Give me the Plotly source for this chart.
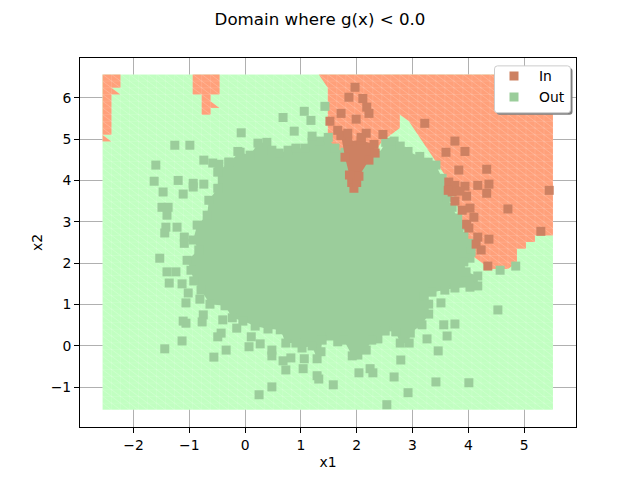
import numpy as np
import plotly.graph_objects as go

TITLE = "Domain where g(x) < 0.0"
GREEN_MESH, RED_MESH = "#C1FFC1", "#FFA07A"
OUT_COL, IN_COL = "#9BCD9B", "#CD8162"

# mesh of the evaluated domain
x_nodes = np.linspace(-2.555, 5.518, 51)
y_nodes = np.linspace(6.562, -1.544, 51)

# "In" domain outlines, as (column, row from top) nodes of that mesh
in_region_a = [(0,0),(2,0),(2,2),(1,2),(2,3),(1,3),(1,9),(0,9),(1,10),(0,10)]
in_region_b = [(10,0),(13,0),(13,3),(12,3),(12,4),(13,5),(12,5),(12,6),(11,6),(11,3),(10,3)]
in_region_c = [(24,0),(25,2),(25,10),(26,12),(28,18),(30,12),(31,10),(33,8),(33,6),(34,7),(35,9),
               (36,11),(37,13),(38,15),(39,18),(40,22),(41,27),(43,29),(45,29),(46,28),(46,26),
               (47,26),(47,25),(48,25),(48,24),(50,24),(50,0)]

out_x = [-1.26,-0.99,-0.74,-0.58,-0.47,-1.60,-1.63,-1.20,-0.93,-0.93,-0.74,-1.47,-1.11,-1.49,-1.38,-1.40,
         -1.42,-1.44,-1.22,-1.09,-1.09,-1.53,-0.13,-0.07,0.68,1.06,1.18,0.88,1.20,1.43,-1.40,-1.24,-1.36,
         -1.13,-1.02,-1.06,-0.81,-1.11,-1.06,-0.75,-0.77,-1.13,-1.44,-0.43,-0.49,-0.34,-0.56,-0.15,-0.40,
         0.07,0.11,0.27,0.48,0.48,0.68,0.82,0.73,1.06,1.04,0.48,0.25,1.29,1.32,1.58,2.04,2.24,2.29,2.67,
         2.92,2.54,2.79,3.42,4.01,3.46,3.26,3.56,3.76,3.62,3.51,4.53,4.57,4.85]
out_y = [4.85,4.85,4.49,4.42,4.39,4.37,3.98,4.00,3.93,3.84,3.91,3.72,3.67,3.35,3.35,3.16,
         2.87,2.73,2.87,2.63,2.48,2.12,4.70,5.15,5.52,5.67,5.45,5.19,5.07,5.79,1.79,1.79,1.52,
         1.50,1.28,1.04,1.13,0.60,0.55,0.75,0.58,0.12,-0.07,0.31,0.22,-0.10,-0.27,0.43,0.63,
         -0.02,0.22,0.05,-0.10,-0.24,-0.36,-0.29,-0.58,-0.31,-0.55,-0.99,-1.18,-0.72,-0.80,-0.94,-0.65,-0.55,-0.65,-0.75,
         -1.13,-1.42,-0.34,-0.87,-0.89,-0.12,0.17,0.51,0.53,0.24,1.04,0.87,1.83,1.93]

# edge points of the dense "Out" cloud, clockwise
out_edge_x = [-0.29,-0.09,0.09,0.23,0.39,0.48,0.61,0.77,0.91,1.07,1.20,1.34,1.49,1.61,1.79,2.06,2.38,2.52,2.67,
              2.78,2.92,3.13,3.28,3.42,3.53,3.60,3.62,3.71,3.81,3.90,3.92,4.03,4.05,4.03,3.92,3.96,4.17,4.17,
              4.03,3.76,3.58,3.35,3.21,3.29,3.29,3.17,2.96,2.94,2.78,2.70,2.51,2.38,2.27,2.17,2.02,1.92,1.77,
              1.66,1.52,1.38,1.36,1.29,1.20,1.02,0.91,0.73,0.63,0.41,0.18,-0.04,-0.23,-0.36,-0.63,-0.79,-0.92,
              -0.97,-1.04,-0.83,-0.93,-0.86,-0.68,-0.65,-0.49,-0.49]
out_edge_y = [4.44,4.68,4.61,4.90,4.92,4.73,4.66,4.73,4.78,4.78,4.92,4.95,5.04,4.78,4.68,4.73,4.61,4.92,4.95,
              4.83,4.70,4.58,4.44,4.37,4.05,3.84,3.59,3.35,3.09,2.90,2.65,2.48,2.27,2.12,2.03,1.79,1.69,1.45,
              1.42,1.40,1.35,1.30,1.21,1.01,0.77,0.51,0.31,0.07,0.07,0.34,0.36,0.17,0.14,-0.10,-0.22,-0.24,0.14,
              0.10,0.24,0.14,-0.14,-0.31,0.00,-0.05,0.07,0.07,0.39,0.41,0.48,0.60,0.68,0.97,1.01,1.35,1.57,
              1.83,2.07,2.32,2.56,2.92,3.16,3.52,3.81,4.20]

in_x = [1.97,1.86,2.11,2.18,2.22,1.72,1.99,1.52,1.66,1.84,2.17,2.08,2.47,3.22,3.76,3.60,3.94,3.83,4.33,4.37,
        4.17,4.33,5.45,4.71,4.37,5.30,4.35,3.65,3.76,3.94,3.71,3.97,3.76,3.89,4.03,4.10,3.97,4.01,4.17,4.14,
        4.23,3.85,3.64]
in_y = [6.25,6.01,5.98,5.77,5.62,5.62,5.48,5.43,5.21,5.14,5.14,5.04,5.11,5.38,4.95,4.68,4.70,4.25,4.27,3.91,
        3.88,3.69,3.76,3.31,2.58,2.77,1.93,3.96,3.88,3.86,3.72,3.62,3.50,3.28,3.33,3.11,2.94,2.85,2.63,2.46,
        2.32,3.74,3.76]

# edge points of the dense "In" wedge
in_edge_x = [1.72,1.79,1.87,1.91,1.95,2.00,2.04,2.22,2.33,2.31,2.08,1.84]
in_edge_y = [5.09,4.56,4.13,3.95,3.81,3.95,4.10,4.49,4.66,4.87,4.97,4.95]

fig = go.Figure()

def area(xs, ys, color):
    fig.add_trace(go.Scatter(x=xs, y=ys, mode="lines", fill="toself", fillcolor=color,
                             line=dict(width=0), showlegend=False, hoverinfo="skip"))

area([x_nodes[0], x_nodes[-1], x_nodes[-1], x_nodes[0], x_nodes[0]],
     [y_nodes[0], y_nodes[0], y_nodes[-1], y_nodes[-1], y_nodes[0]], GREEN_MESH)
for region in (in_region_a, in_region_b, in_region_c):
    nodes = region + region[:1]
    area([x_nodes[i] for i, _ in nodes], [y_nodes[d] for _, d in nodes], RED_MESH)

# the faint seams between the mesh triangles
sx, sy = [], []
for k in range(-50, 51):
    a = max(0, k)
    b = min(50, 50 + k)
    sx += [x_nodes[a], x_nodes[b], None]
    sy += [y_nodes[a - k], y_nodes[b - k], None]
fig.add_trace(go.Scatter(x=sx, y=sy, mode="lines", line=dict(color="rgba(255,255,255,0.4)", width=0.5),
                         showlegend=False, hoverinfo="skip"))
hx, hy = [], []
for v in x_nodes:
    hx += [v, v, None]
    hy += [y_nodes[0], y_nodes[-1], None]
for v in y_nodes:
    hx += [x_nodes[0], x_nodes[-1], None]
    hy += [v, v, None]
fig.add_trace(go.Scatter(x=hx, y=hy, mode="lines", line=dict(color="rgba(255,255,255,0.3)", width=0.4),
                         showlegend=False, hoverinfo="skip"))

marker_in = dict(symbol="square", size=9, color=IN_COL, line=dict(width=0))
marker_out = dict(symbol="square", size=9, color=OUT_COL, line=dict(width=0))

# drawn Out first, In on top; the legend is reversed to list In first
fig.add_trace(go.Scatter(x=out_edge_x + out_edge_x[:1], y=out_edge_y + out_edge_y[:1], mode="markers",
                         fill="toself", fillcolor=OUT_COL, marker=marker_out, showlegend=False))
fig.add_trace(go.Scatter(x=out_x, y=out_y, mode="markers", name="Out", marker=marker_out))
fig.add_trace(go.Scatter(x=in_edge_x + in_edge_x[:1], y=in_edge_y + in_edge_y[:1], mode="markers",
                         fill="toself", fillcolor=IN_COL, marker=marker_in, showlegend=False))
fig.add_trace(go.Scatter(x=in_x, y=in_y, mode="markers", name="In", marker=marker_in))

def px(x): return (x - 80) / 496
def py(y): return (427.2 - y) / 369.6

def rounded(x0, y0, x1, y1, r=3):
    X0, X1, Y0, Y1 = px(x0), px(x1), py(y0), py(y1)
    rx, ry = r / 496, r / 369.6
    return (f"M {X0+rx} {Y0} L {X1-rx} {Y0} Q {X1} {Y0} {X1} {Y0-ry} L {X1} {Y1+ry} Q {X1} {Y1} {X1-rx} {Y1} "
            f"L {X0+rx} {Y1} Q {X0} {Y1} {X0} {Y1+ry} L {X0} {Y0-ry} Q {X0} {Y0} {X0+rx} {Y0} Z")

shapes = [
    dict(type="path", xref="paper", yref="paper", path=rounded(496.5, 67.5, 572.5, 114.5),
         fillcolor="#7f7f7f", line=dict(width=0)),
    dict(type="path", xref="paper", yref="paper", path=rounded(494.5, 65.5, 570.5, 112.5),
         fillcolor="white", line=dict(color="#cccccc", width=1)),
]

axis = dict(showgrid=True, gridcolor="#b0b0b0", gridwidth=1, zeroline=False, showline=True, linecolor="black",
            linewidth=1, mirror=True, ticks="outside", ticklen=5, tickwidth=1, tickcolor="black", dtick=1,
            automargin=False)
fig.update_layout(
    width=640, height=480, autosize=False,
    margin=dict(l=80, r=64, t=57.6, b=52.8),
    paper_bgcolor="white", plot_bgcolor="white",
    font=dict(family="DejaVu Sans", size=13.9, color="black"),
    title=dict(text=TITLE, x=0.5, xref="container", xanchor="center", y=0.961, yanchor="middle",
               font=dict(size=16.67)),
    xaxis=dict(axis, range=[-2.959, 5.93], title=dict(text="x1", standoff=5, font=dict(size=13.9))),
    yaxis=dict(axis, range=[-1.959, 6.958], title=dict(text="x2", standoff=4, font=dict(size=13.9))),
    legend=dict(x=px(489), y=py(60), xanchor="left", yanchor="top", bgcolor="rgba(0,0,0,0)",
                borderwidth=0, itemwidth=40, font=dict(size=13.9), traceorder="reversed"),
    shapes=shapes,
)
fig.write_html("out.html", post_script="document.body.style.margin='0';", config={"displayModeBar": False})
